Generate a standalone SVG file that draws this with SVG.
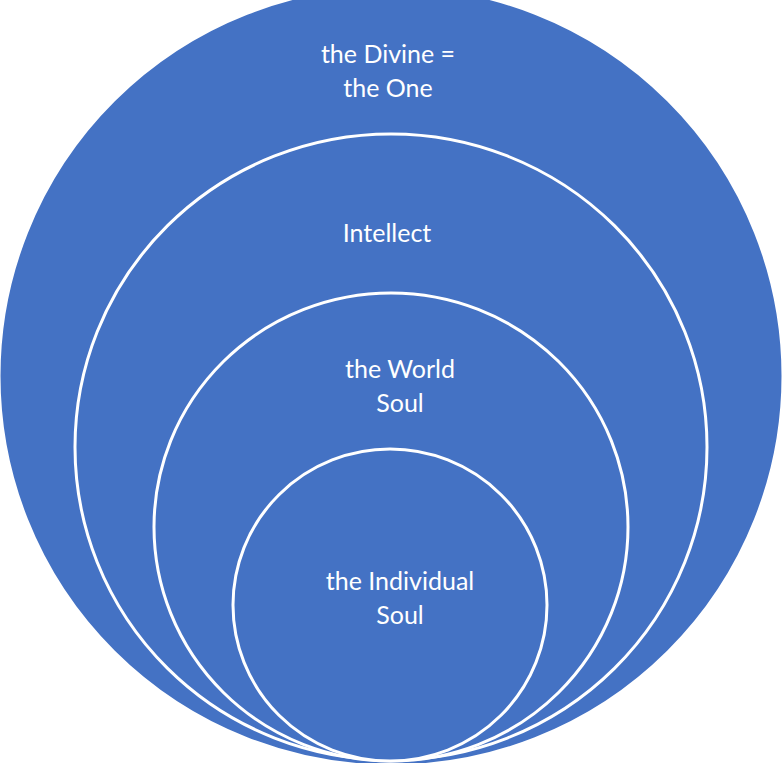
<svg xmlns="http://www.w3.org/2000/svg" width="782" height="763" viewBox="0 0 782 763">
<style>
.c{fill:#4472c4;stroke:#fff;stroke-width:3}
.t{font-family:Lato,"Liberation Sans",sans-serif;font-size:25px;fill:#fff;text-anchor:middle}
</style>
<rect width="782" height="763" fill="#fff"/>
<g id="one"><ellipse class="c" cx="391" cy="376" rx="392" ry="390" stroke="none"/>
<text class="t" x="388" y="63">the Divine =</text><text class="t" x="388" y="97">the One</text></g>
<g id="intellect"><ellipse class="c" cx="391" cy="447" rx="316" ry="313"/>
<text class="t" x="387" y="242">Intellect</text></g>
<g id="worldsoul"><ellipse class="c" cx="391" cy="527" rx="237" ry="234"/>
<text class="t" x="400" y="378">the World</text><text class="t" x="400" y="412">Soul</text></g>
<g id="individual"><ellipse class="c" cx="390" cy="605" rx="157" ry="156"/>
<text class="t" x="400" y="590">the Individual</text><text class="t" x="400" y="624">Soul</text></g>
<g id="connectors"/>
</svg>
